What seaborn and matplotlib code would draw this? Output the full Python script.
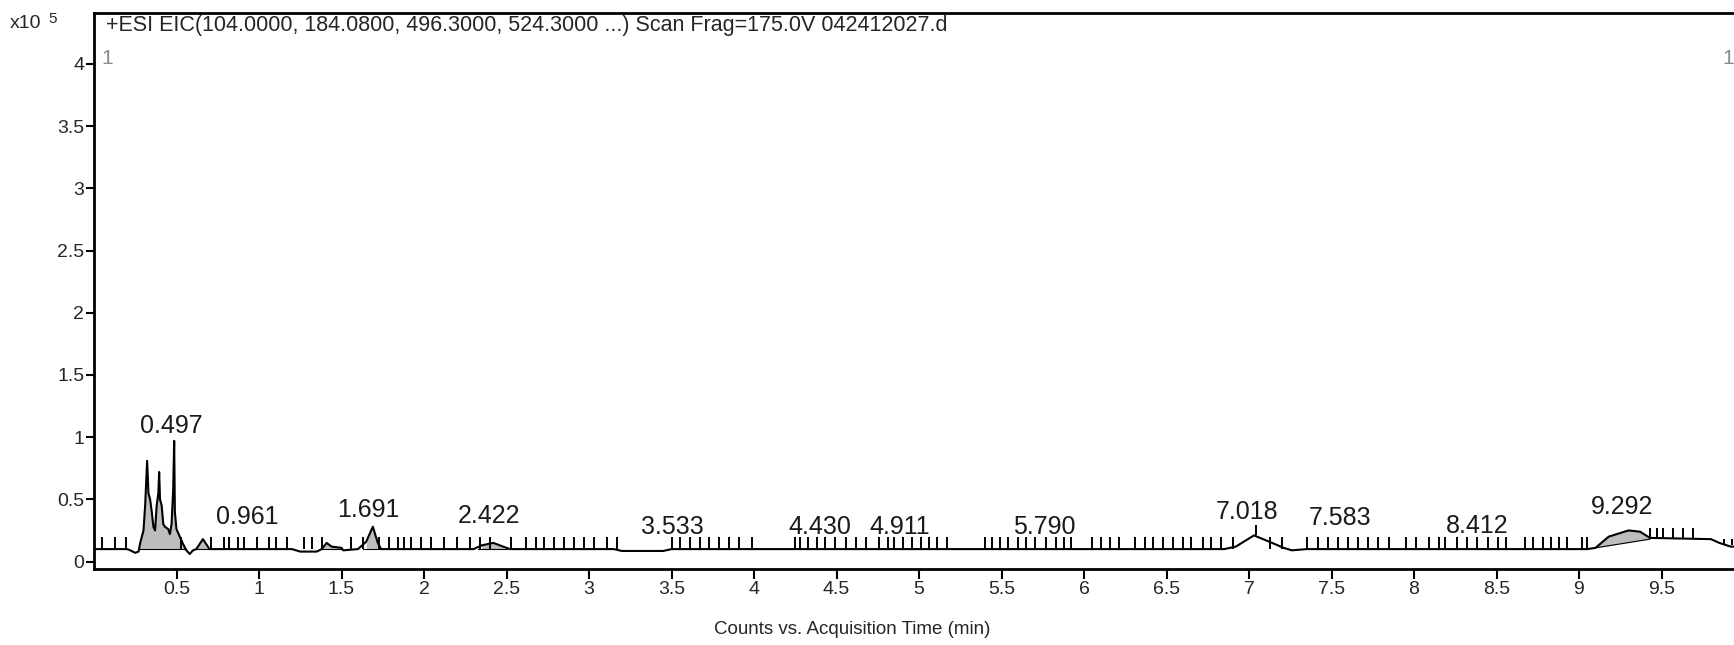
import numpy as np
import pandas as pd
import seaborn as sns
import matplotlib.pyplot as plt

# EIC trace, counts in units of 1e5
trace_t = [0.00, 0.20, 0.22, 0.25, 0.27, 0.28, 0.30, 0.31, 0.322, 0.33, 0.34, 0.35, 0.36, 0.37,
           0.38, 0.39, 0.395, 0.40, 0.41, 0.42, 0.43, 0.45, 0.46, 0.47, 0.48, 0.486, 0.49, 0.50,
           0.52, 0.54, 0.56, 0.58, 0.60, 0.62, 0.66, 0.70, 1.20, 1.25, 1.35, 1.38, 1.41, 1.44,
           1.50, 1.51, 1.60, 1.65, 1.69, 1.72, 1.74, 2.30, 2.35, 2.42, 2.48, 2.52, 3.15, 3.20,
           3.45, 3.50, 6.85, 6.92, 7.03, 7.14, 7.21, 7.26, 7.35, 9.05, 9.10, 9.18, 9.30, 9.37,
           9.43, 9.80, 9.85, 9.92, 10.0]
trace_v = [0.10, 0.10, 0.09, 0.07, 0.08, 0.15, 0.25, 0.45, 0.81, 0.55, 0.50, 0.40, 0.28, 0.25,
           0.45, 0.55, 0.72, 0.50, 0.45, 0.30, 0.28, 0.26, 0.22, 0.30, 0.58, 0.97, 0.40, 0.26,
           0.20, 0.14, 0.09, 0.06, 0.09, 0.10, 0.18, 0.10, 0.10, 0.08, 0.08, 0.10, 0.15, 0.12,
           0.11, 0.09, 0.10, 0.16, 0.28, 0.15, 0.10, 0.10, 0.13, 0.15, 0.12, 0.10, 0.10, 0.085,
           0.085, 0.10, 0.10, 0.12, 0.21, 0.15, 0.11, 0.09, 0.10, 0.10, 0.11, 0.20, 0.25, 0.24,
           0.19, 0.18, 0.15, 0.12, 0.12]

# narrow noise spikes sitting on the baseline
spike_t = [0.05, 0.13, 0.195, 0.53, 0.71, 0.79, 0.82, 0.87, 0.91, 0.99, 1.06, 1.10, 1.17, 1.27,
           1.32, 1.38, 1.56, 1.63, 1.73, 1.79, 1.84, 1.88, 1.92, 1.98, 2.04, 2.12, 2.20, 2.28,
           2.34, 2.40, 2.53, 2.62, 2.68, 2.73, 2.79, 2.85, 2.91, 2.97, 3.03, 3.11, 3.17, 3.50,
           3.55, 3.61, 3.67, 3.73, 3.79, 3.85, 3.91, 3.99, 4.25, 4.28, 4.33, 4.38, 4.43, 4.49,
           4.56, 4.62, 4.68, 4.76, 4.81, 4.85, 4.90, 4.96, 5.01, 5.06, 5.11, 5.17, 5.40, 5.44,
           5.49, 5.54, 5.60, 5.65, 5.70, 5.77, 5.83, 5.88, 5.92, 6.05, 6.10, 6.16, 6.21, 6.31,
           6.37, 6.42, 6.48, 6.54, 6.60, 6.65, 6.72, 6.77, 6.83, 6.90, 7.13, 7.20, 7.35, 7.42,
           7.48, 7.54, 7.60, 7.66, 7.72, 7.78, 7.85, 7.95, 8.01, 8.09, 8.15, 8.19, 8.26, 8.32,
           8.38, 8.45, 8.51, 8.56, 8.67, 8.72, 8.78, 8.83, 8.88, 8.93, 9.02, 9.05]
spike_lo, spike_hi = 0.10, 0.20
tail_spike_t = [9.43, 9.47, 9.51, 9.57, 9.63, 9.69]
tail_lo, tail_hi = 0.18, 0.27
end_spike_t = [9.88, 9.93]
end_lo, end_hi = 0.13, 0.18
hump_spike_t = [7.04]
hump_lo, hump_hi = 0.21, 0.29

# integrated regions: start, end, baseline at start, baseline at end
fills = [(0.27, 0.56, 0.10, 0.10), (0.62, 0.70, 0.10, 0.10), (1.38, 1.50, 0.10, 0.10),
         (1.63, 1.74, 0.10, 0.10), (2.33, 2.50, 0.10, 0.10), (9.10, 9.43, 0.11, 0.18)]

peak_labels = ["0.497", "0.961", "1.691", "2.422", "3.533", "4.430", "4.911", "5.790",
               "7.018", "7.583", "8.412", "9.292"]
peak_label_y = [0.99, 0.26, 0.32, 0.27, 0.18, 0.18, 0.18, 0.18, 0.30, 0.25, 0.19, 0.34]

title = "+ESI EIC(104.0000, 184.0800, 496.3000, 524.3000 ...) Scan Frag=175.0V 042412027.d"

sns.set_style("ticks")
plt.rcParams['font.family'] = ['Liberation Sans', 'DejaVu Sans']

W, H = 1734, 645
fig = plt.figure(figsize=(W / 100, H / 100), dpi=100)
ax = fig.add_axes([94 / W, 1 - 569 / H, 1650 / W, 556 / H])

df = pd.DataFrame({"time": trace_t, "counts": trace_v})
t = np.array(trace_t)
v = np.array(trace_v)
for t0, t1, b0, b1 in fills:
    m = (t >= t0) & (t <= t1)
    base = b0 + (b1 - b0) * (t[m] - t0) / (t1 - t0)
    ax.fill_between(t[m], v[m], base, color="#bdbdbd", lw=0, zorder=1)
    ax.plot([t0, t1], [b0, b1], color="black", lw=0.8, zorder=2)

sns.lineplot(data=df, x="time", y="counts", ax=ax, color="black", lw=1.5,
             estimator=None, sort=False, zorder=3)
ax.vlines(spike_t, spike_lo, spike_hi, color="black", lw=1.4, zorder=3)
ax.vlines(tail_spike_t, tail_lo, tail_hi, color="black", lw=1.4, zorder=3)
ax.vlines(end_spike_t, end_lo, end_hi, color="black", lw=1.4, zorder=3)
ax.vlines(hump_spike_t, hump_lo, hump_hi, color="black", lw=1.4, zorder=3)

for lab, y in zip(peak_labels, peak_label_y):
    ax.text(float(lab) - 0.03, y, lab, ha="center", va="bottom", fontsize=18, color="#1a1a1a",
            zorder=4)

ax.set_xlim(0.0, 10.0)
ax.set_ylim(-0.06, 4.41)
ax.set_xticks(np.arange(0.5, 10.0, 0.5))
ax.set_xticklabels([f"{x:g}" for x in np.arange(0.5, 10.0, 0.5)], fontsize=14)
ax.set_yticks(np.arange(0, 4.01, 0.5))
ax.set_yticklabels([f"{y:g}" for y in np.arange(0, 4.01, 0.5)], fontsize=14)
ax.tick_params(axis="x", length=7, width=1.5, pad=2, color="black")
ax.tick_params(axis="y", length=6, width=1.5, pad=1, color="black")
ax.set_xlabel("")
ax.set_ylabel("")
for s in ax.spines.values():
    s.set_visible(True)
    s.set_color("black")
    s.set_linewidth(2)

fig.text(10 / W, 1 - 24 / H, "x10", fontsize=14, va="center", ha="left")
fig.text(48 / W, 1 - 19 / H, "5", fontsize=11, va="center", ha="left")
fig.text(106 / W, 1 - 25 / H, title, fontsize=15.5, va="center", ha="left")
fig.text(101 / W, 1 - 58 / H, "1", fontsize=15, color="#8a8a8a", va="center", ha="left")
fig.text(1722 / W, 1 - 58 / H, "1", fontsize=15, color="#8a8a8a", va="center", ha="left")
fig.text(852 / W, 1 - 629 / H, "Counts vs. Acquisition Time (min)",
         fontsize=13.5, va="center", ha="center")

fig.savefig("out.png", dpi=100)
